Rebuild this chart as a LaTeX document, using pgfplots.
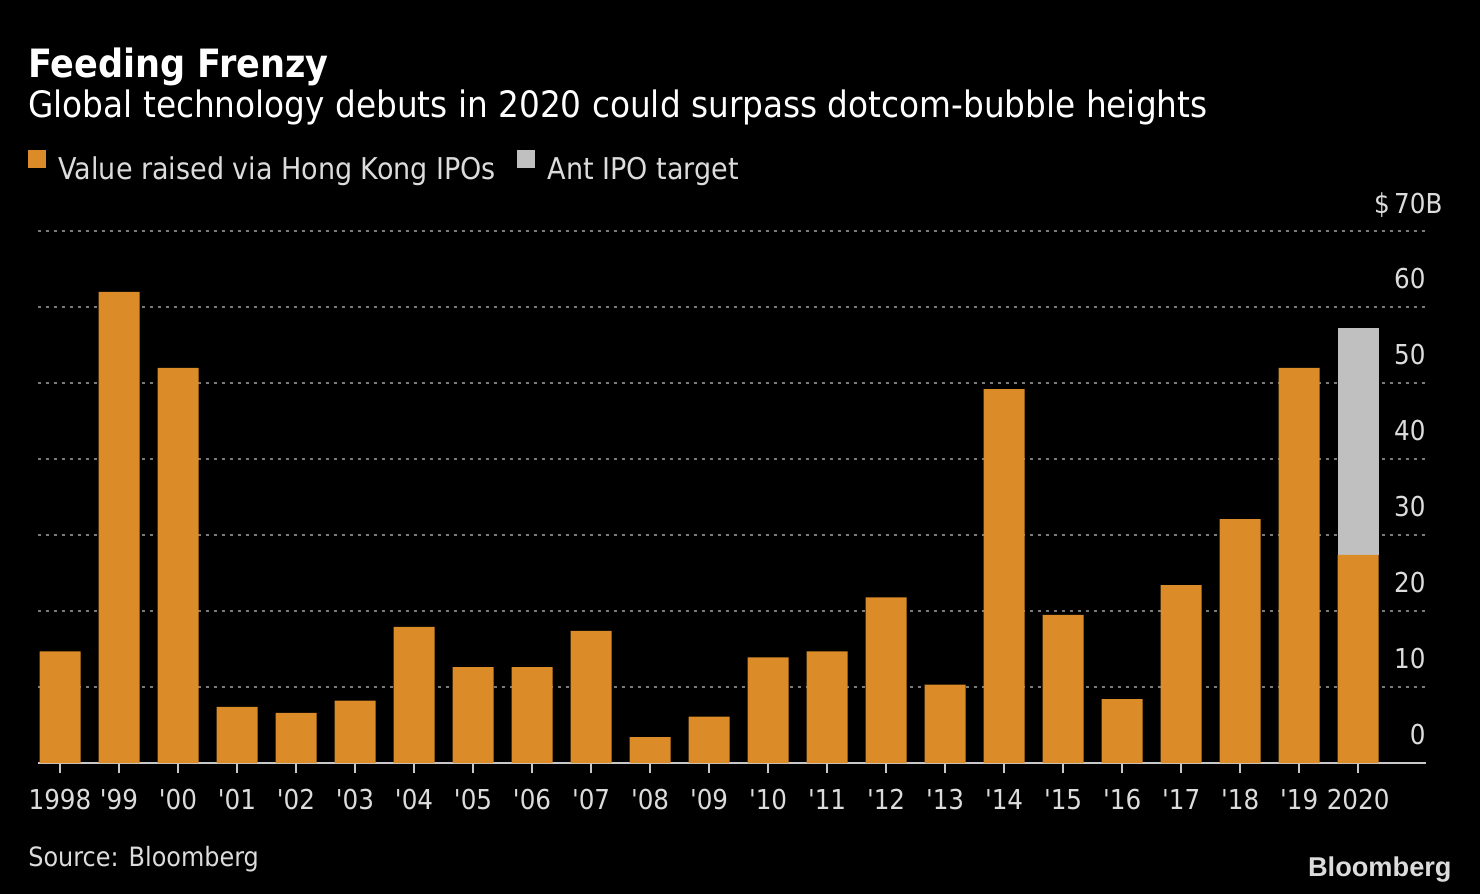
\documentclass[border=0pt]{standalone}
\usepackage{fontspec}
\setmainfont{DejaVu Sans Condensed}
\newfontfamily\logofont{Liberation Sans}
\usepackage{pgfplots}
\pgfplotsset{compat=1.18}
\usepackage{pgfplotstable}
\definecolor{barorange}{HTML}{DB8B27}
\definecolor{bargray}{HTML}{C0C0C0}
\definecolor{txt}{HTML}{DCDCDC}
\definecolor{gridc}{HTML}{7A7A7A}
\definecolor{axc}{HTML}{C8C8C8}

\pgfplotstableread{
x v a
0 14.7 0
1 62.0 0
2 52.0 0
3 7.4 0
4 6.6 0
5 8.2 0
6 17.9 0
7 12.6 0
8 12.6 0
9 17.4 0
10 3.4 0
11 6.1 0
12 13.9 0
13 14.7 0
14 21.8 0
15 10.3 0
16 49.2 0
17 19.5 0
18 8.4 0
19 23.4 0
20 32.1 0
21 52.0 0
22 27.4 29.8
}\datatable

\begin{document}
\begin{tikzpicture}
\fill[black] (0pt,0pt) rectangle (740pt,-447pt);
\node[anchor=base west, text=white, font=\bfseries\fontsize{19.5}{22}\selectfont, inner sep=0] at (14pt,-38.5pt) {Feeding Frenzy};
\node[anchor=base west, text=white, font=\fontsize{18.2}{21}\selectfont, inner sep=0] at (14pt,-58.5pt) {Global technology debuts in 2020 could surpass dotcom-bubble heights};
\node[anchor=base west, text=txt, font=\fontsize{13.3}{15}\selectfont, inner sep=0] at (14pt,-433pt) {Source: Bloomberg};
\node[anchor=base east, text=txt, font=\logofont\bfseries\fontsize{13.6}{15}\selectfont, inner sep=0] at (726pt,-438pt) {Bloomberg};
\begin{axis}[
  at={(19pt,-381.5pt)}, anchor=south west,
  scale only axis, width=694pt, height=266pt,
  xmin=-0.373, xmax=23.15, ymin=0, ymax=70,
  ybar stacked, bar width=0.695,
  clip=false,
  axis x line*=bottom,
  x axis line style={-, axc, line width=0.8pt},
  y axis line style={draw=none},
  xtick={0,...,22},
  xticklabels={1998,\textquotesingle99,\textquotesingle00,\textquotesingle01,\textquotesingle02,\textquotesingle03,\textquotesingle04,\textquotesingle05,\textquotesingle06,\textquotesingle07,\textquotesingle08,\textquotesingle09,\textquotesingle10,\textquotesingle11,\textquotesingle12,\textquotesingle13,\textquotesingle14,\textquotesingle15,\textquotesingle16,\textquotesingle17,\textquotesingle18,\textquotesingle19,2020},
  xticklabel style={text=txt, font=\fontsize{13.7}{16}\selectfont, anchor=north, inner sep=0pt, yshift=-8pt},
  xtick style={axc, line width=0.8pt},
  major tick length=5pt, tick align=outside,
  ytick={10,20,...,70}, yticklabels={},
  ytick style={draw=none},
  ymajorgrids,
  major grid style={gridc, dash pattern=on 1.7pt off 2.3pt, line width=0.7pt},
  legend style={at={(axis description cs:-0.012,1.118)}, anchor=west, draw=none, fill=none,
    text=txt, font=\fontsize{15}{17}\selectfont, legend columns=2,
    /tikz/every even column/.append style={column sep=8.5pt}},
  legend image code/.code={\draw[#1,/tikz/.cd,draw=none] (0pt,0.6pt) rectangle (9pt,9.6pt); \path (13.5pt,5pt);},
]
\addplot[fill=barorange, draw=none] table[x=x, y=v] {\datatable};
\addlegendentry{Value raised via Hong Kong IPOs}
\addplot[fill=bargray, draw=none] table[x=x, y=a] {\datatable};
\addlegendentry{Ant IPO target}
\node[anchor=base east, text=txt, font=\fontsize{13.7}{16}\selectfont, inner sep=0] at (axis cs:23.15,70) [yshift=9pt] {\llap{\$\,}70\rlap{B}};
\node[anchor=base east, text=txt, font=\fontsize{13.7}{16}\selectfont, inner sep=0] at (axis cs:23.15,60) [yshift=9.5pt] {60};
\node[anchor=base east, text=txt, font=\fontsize{13.7}{16}\selectfont, inner sep=0] at (axis cs:23.15,50) [yshift=9.5pt] {50};
\node[anchor=base east, text=txt, font=\fontsize{13.7}{16}\selectfont, inner sep=0] at (axis cs:23.15,40) [yshift=9.5pt] {40};
\node[anchor=base east, text=txt, font=\fontsize{13.7}{16}\selectfont, inner sep=0] at (axis cs:23.15,30) [yshift=9.5pt] {30};
\node[anchor=base east, text=txt, font=\fontsize{13.7}{16}\selectfont, inner sep=0] at (axis cs:23.15,20) [yshift=9.5pt] {20};
\node[anchor=base east, text=txt, font=\fontsize{13.7}{16}\selectfont, inner sep=0] at (axis cs:23.15,10) [yshift=9.5pt] {10};
\node[anchor=base east, text=txt, font=\fontsize{13.7}{16}\selectfont, inner sep=0] at (axis cs:23.15,0) [yshift=9.5pt] {0};
\end{axis}
\end{tikzpicture}
\end{document}
